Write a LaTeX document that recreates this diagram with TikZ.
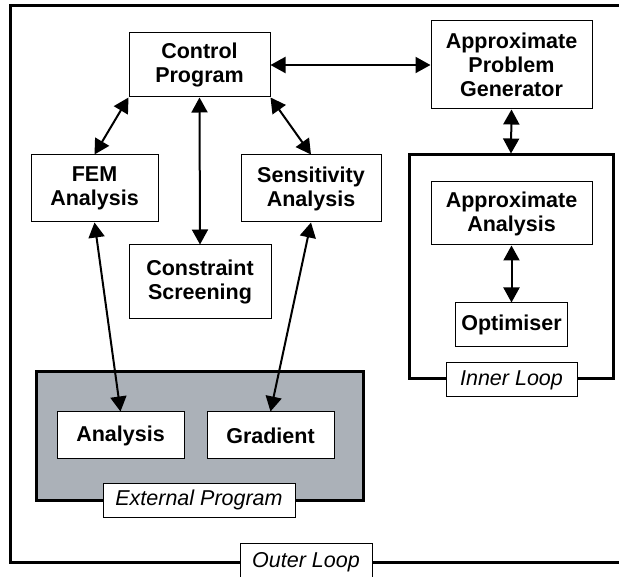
\documentclass[tikz,border=0pt]{standalone}
\usepackage{fontspec}
\setmainfont{Liberation Sans}
\usetikzlibrary{arrows.meta}
\definecolor{extgray}{RGB}{171,177,184}
\tikzset{
  box/.style={draw, line width=1pt, fill=white, align=center, inner sep=0pt,
    font=\bfseries\fontsize{21.5}{24}\selectfont},
  tag/.style={draw, line width=1pt, fill=white, inner sep=0pt,
    font=\itshape\fontsize{21.5}{24}\selectfont},
  loopbox/.style={draw, line width=3pt, inner sep=0pt},
  link/.style={{Triangle[length=15pt,width=16pt]}-{Triangle[length=15pt,width=16pt]}, line width=2pt},
}
\begin{document}
\begin{tikzpicture}[x=1pt,y=-1pt]
\useasboundingbox (0,0) rectangle (619,577);

% outer loop
\draw [line width=3pt] (625,6) -- (10,6) -- (10,562) -- (625,562);
\node [tag, minimum width=132pt, minimum height=38pt] (outer) at (306,562) {Outer Loop};

% containers
\node [loopbox, fill=extgray, minimum width=327pt, minimum height=128pt] (ext) at (199.5,436) {};
\node [loopbox, minimum width=204pt, minimum height=224pt] (inner) at (511,267) {};
\node [tag, minimum width=192pt, minimum height=34pt] (exttag) at (199,500) {External Program};
\node [tag, minimum width=131pt, minimum height=34pt] (innertag) at (511.5,380) {Inner Loop};

% boxes
\node [box, minimum width=141pt, minimum height=64pt] (cp) at (199.5,65) {Control\\Program};
\node [box, minimum width=161pt, minimum height=88pt] (apg) at (511.5,65) {Approximate\\Problem\\Generator};
\node [box, minimum width=127pt, minimum height=67pt] (fem) at (94.5,188.5) {FEM\\Analysis};
\node [box, minimum width=140pt, minimum height=67pt] (sens) at (311,188.5) {Sensitivity\\Analysis};
\node [box, minimum width=142pt, minimum height=74pt] (cs) at (200,282) {Constraint\\Screening};
\node [box, minimum width=161pt, minimum height=63pt] (aa) at (511.5,213.5) {Approximate\\Analysis};
\node [box, minimum width=112pt, minimum height=44pt] (opt) at (511.5,325) {Optimiser};
\node [box, minimum width=127pt, minimum height=47pt] (ana) at (120.5,435.5) {Analysis};
\node [box, minimum width=127pt, minimum height=47pt] (grad) at (270.5,435.5) {Gradient};

% links
\draw [link] (cp.east) -- (apg.west);
\draw [link] (cp.south west) -- (fem.north);
\draw [link] (cp.south east) -- (sens.north);
\draw [link] (cp.south) -- (cs.north);
\draw [link] (apg.south) -- (inner.north);
\draw [link] (aa.south) -- (opt.north);
\draw [link] (fem.south) -- (ana.north);
\draw [link] (sens.south) -- (grad.north);

\end{tikzpicture}
\end{document}
